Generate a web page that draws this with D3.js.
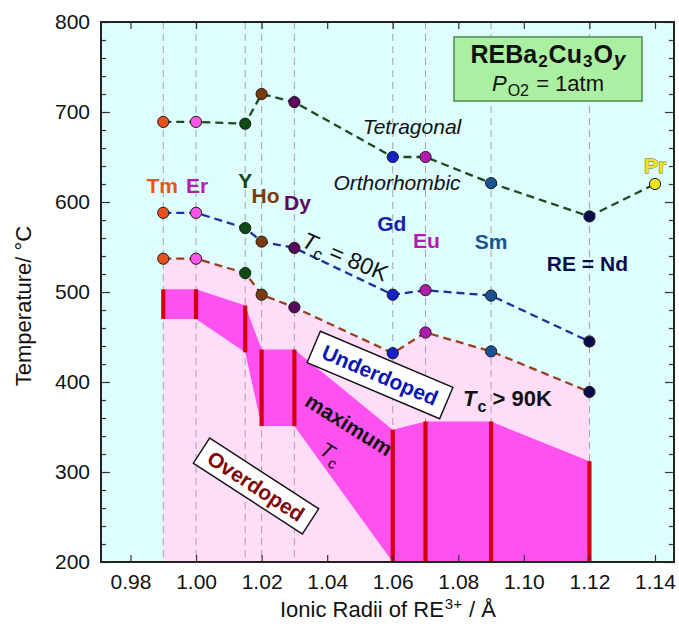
<!DOCTYPE html>
<html>
<head>
<meta charset="utf-8">
<script src="https://cdn.jsdelivr.net/npm/d3@7"></script>
<style>
  body { margin: 0; background: #fff; }
  svg { display: block; }
  text { font-family: "Liberation Sans", Arial, Helvetica, sans-serif; }
</style>
</head>
<body>
<svg id="chart" width="679" height="629"></svg>
<script>
// Rare-earth elements and their ionic radii (Å)
const elements = ["Tm", "Er", "Y", "Ho", "Dy", "Gd", "Eu", "Sm", "Nd"];
const radii = [0.99, 1.00, 1.015, 1.02, 1.03, 1.06, 1.07, 1.09, 1.12];

// Tetragonal / orthorhombic transition temperature (°C)
const tetraOrtho = [689, 689, 687, 720, 711, 650, 650, 621, 584];
const prRadius = 1.14;
const prTetraOrtho = 620;

// Tc = 80 K line (°C)
const tc80 = [588, 588, 571, 556, 549, 497, 502, 496, 445];
// Tc > 90 K upper boundary (°C)
const tc90 = [537, 537, 521, 497, 483, 432, 455, 434, 389];

// Maximum-Tc band: upper and lower limits (°C)
const maxTcTop = [503, 503, 485, 436, 436, 347, 356, 356, 312];
const maxTcBottom = [470, 470, 433, 351, 351, 200, 200, 200, 200];

// Axis ticks
const xTicks = [0.98, 1.00, 1.02, 1.04, 1.06, 1.08, 1.10, 1.12, 1.14];
const yTicks = [200, 300, 400, 500, 600, 700, 800];

// Marker colours per element
const markerColors = {
  Tm: "#e8501c", Er: "#ff55e6", Y: "#0f4a14", Ho: "#7a3c0e", Dy: "#5a0a5e",
  Gd: "#1420c8", Eu: "#b01cb0", Sm: "#1a5294", Nd: "#0c0c4c", Pr: "#f2e41c"
};
const labelColors = {
  Tm: "#e4561c", Er: "#b21cb4", Y: "#0f4a14", Ho: "#7a3c0e", Dy: "#5a0a5e",
  Gd: "#1a1ea8", Eu: "#b01cb0", Sm: "#1a5294", Nd: "#0c0c4c"
};
// Label placement relative to the Tc = 80 K marker (px)
const labelLayout = {
  Tm: [-1, -20], Er: [1, -20], Y: [0, -40], Ho: [4, -39], Dy: [3, -38],
  Gd: [-1, -64], Eu: [1, -42], Sm: [0, -47], Nd: [-2, -71]
};

const svg = d3.select("#chart");
const margin = { left: 101, right: 674, top: 22, bottom: 562 };

const x = d3.scaleLinear().domain([0.971, 1.1458]).range([margin.left, margin.right]);
const y = d3.scaleLinear().domain([200, 800]).range([margin.bottom, margin.top]);

const rows = elements.map((el, i) => ({
  el, r: radii[i], to: tetraOrtho[i], t80: tc80[i], t90: tc90[i],
  top: maxTcTop[i], bot: maxTcBottom[i]
}));

svg.append("defs").append("clipPath").attr("id", "plotClip")
  .append("rect")
  .attr("x", margin.left).attr("y", margin.top)
  .attr("width", margin.right - margin.left).attr("height", margin.bottom - margin.top);

// Plot background
svg.append("rect")
  .attr("x", margin.left).attr("y", margin.top)
  .attr("width", margin.right - margin.left).attr("height", margin.bottom - margin.top)
  .attr("fill", "#defdfd");

const plot = svg.append("g").attr("clip-path", "url(#plotClip)");

// Tc > 90 K region
plot.append("path")
  .datum(rows)
  .attr("fill", "#ffdcf8")
  .attr("d", d3.area().x(d => x(d.r)).y0(y(200)).y1(d => y(d.t90)));

// Guide lines at each element
plot.selectAll("line.guide")
  .data(rows)
  .join("line")
  .attr("class", "guide")
  .attr("x1", d => x(d.r)).attr("x2", d => x(d.r))
  .attr("y1", margin.top).attr("y2", margin.bottom)
  .attr("stroke", "#a4a4a4").attr("stroke-width", 1)
  .attr("stroke-dasharray", "7,5");

// Maximum-Tc band
plot.append("path")
  .datum(rows)
  .attr("fill", "#ff50f0")
  .attr("d", d3.area().x(d => x(d.r)).y0(d => y(d.bot)).y1(d => y(d.top)));

// Measured maximum-Tc ranges
plot.selectAll("line.range")
  .data(rows)
  .join("line")
  .attr("class", "range")
  .attr("x1", d => x(d.r)).attr("x2", d => x(d.r))
  .attr("y1", d => y(d.bot)).attr("y2", d => y(d.top))
  .attr("stroke", "#d4000e").attr("stroke-width", 4.2);

// Dashed phase lines
const lineGen = d3.line().x(d => x(d[0])).y(d => y(d[1]));
const tetraPts = rows.map(d => [d.r, d.to]).concat([[prRadius, prTetraOrtho]]);
plot.append("path").datum(tetraPts)
  .attr("fill", "none").attr("stroke", "#1d4a1d").attr("stroke-width", 2.3)
  .attr("stroke-dasharray", "8,5").attr("d", lineGen);
plot.append("path").datum(rows.map(d => [d.r, d.t80]))
  .attr("fill", "none").attr("stroke", "#1b2e9c").attr("stroke-width", 2.3)
  .attr("stroke-dasharray", "8,5").attr("d", lineGen);
plot.append("path").datum(rows.map(d => [d.r, d.t90]))
  .attr("fill", "none").attr("stroke", "#9c3e1c").attr("stroke-width", 2.3)
  .attr("stroke-dasharray", "8,5").attr("d", lineGen);

// Region label boxes
function boxedLabel(cx, cy, angle, w, h, text, color, size) {
  const g = svg.append("g").attr("transform", `translate(${cx},${cy}) rotate(${angle})`);
  g.append("rect").attr("x", -w / 2).attr("y", -h / 2).attr("width", w).attr("height", h)
    .attr("fill", "#ffffff").attr("stroke", "#111").attr("stroke-width", 1.4);
  g.append("text").attr("text-anchor", "middle").attr("y", size * 0.36)
    .attr("font-size", size).attr("font-weight", "bold").attr("fill", color)
    .text(text);
}
boxedLabel(380, 375, 23, 144, 34, "Underdoped", "#0a16b4", 21);
boxedLabel(256, 486, 33, 130, 30, "Overdoped", "#7e0a0a", 21);

// Markers
const markerGroups = [
  rows.map(d => ({ r: d.r, t: d.to, c: markerColors[d.el] })).concat([{ r: prRadius, t: prTetraOrtho, c: markerColors.Pr }]),
  rows.map(d => ({ r: d.r, t: d.t80, c: markerColors[d.el] })),
  rows.map(d => ({ r: d.r, t: d.t90, c: markerColors[d.el] }))
];
markerGroups.forEach(pts => {
  svg.append("g").selectAll("circle")
    .data(pts)
    .join("circle")
    .attr("cx", d => x(d.r)).attr("cy", d => y(d.t))
    .attr("r", 5.6)
    .attr("fill", d => d.c)
    .attr("stroke", "#1a1a1a").attr("stroke-width", 1);
});

// Element labels
svg.append("g").selectAll("text")
  .data(rows)
  .join("text")
  .attr("x", d => x(d.r) + labelLayout[d.el][0])
  .attr("y", d => y(d.t80) + labelLayout[d.el][1])
  .attr("text-anchor", "middle")
  .attr("font-size", 21).attr("font-weight", "bold")
  .attr("fill", d => labelColors[d.el])
  .text(d => d.el === "Nd" ? "RE = Nd" : d.el);

svg.append("text")
  .attr("x", x(prRadius)).attr("y", y(prTetraOrtho) - 11)
  .attr("text-anchor", "middle")
  .attr("font-size", 21).attr("font-weight", "bold")
  .attr("fill", "#f2e41c").attr("stroke", "#6a6a20").attr("stroke-width", 0.9)
  .attr("paint-order", "stroke")
  .text("Pr");

// Phase annotations
svg.append("text").attr("x", 412).attr("y", 134).attr("text-anchor", "middle")
  .attr("font-size", 21).attr("font-style", "italic").attr("fill", "#111").text("Tetragonal");
svg.append("text").attr("x", 397).attr("y", 190).attr("text-anchor", "middle")
  .attr("font-size", 21).attr("font-style", "italic").attr("fill", "#111").text("Orthorhombic");

const t80 = svg.append("text")
  .attr("transform", "translate(342,264) rotate(23)")
  .attr("text-anchor", "middle").attr("font-size", 23).attr("fill", "#111");
t80.append("tspan").attr("font-style", "italic").text("T");
t80.append("tspan").attr("font-size", 17).attr("dx", 1).attr("dy", 6).text("c");
t80.append("tspan").attr("dy", -6).text(" = 80K");

const t90 = svg.append("text")
  .attr("x", 463).attr("y", 406)
  .attr("font-size", 22).attr("font-weight", "bold").attr("fill", "#111");
t90.append("tspan").attr("font-style", "italic").text("T");
t90.append("tspan").attr("font-size", 16).attr("dx", 1).attr("dy", 6).text("c");
t90.append("tspan").attr("dy", -6).text(" > 90K");

svg.append("text")
  .attr("transform", "translate(345,431) rotate(32)")
  .attr("text-anchor", "middle").attr("font-size", 21).attr("font-weight", "bold")
  .attr("fill", "#111").text("maximum");
const tcMax = svg.append("text")
  .attr("transform", "translate(327,459) rotate(32)")
  .attr("text-anchor", "middle").attr("font-size", 21).attr("fill", "#111");
tcMax.append("tspan").attr("font-style", "italic").text("T");
tcMax.append("tspan").attr("font-size", 15).attr("dx", 1).attr("dy", 6).text("c");

// Compound box
svg.append("rect").attr("x", 454).attr("y", 37).attr("width", 188).attr("height", 64)
  .attr("fill", "#aaf0a2").attr("stroke", "#4e8a4e").attr("stroke-width", 1.5);
const f1 = svg.append("text").attr("x", 548).attr("y", 63).attr("text-anchor", "middle")
  .attr("font-size", 25).attr("font-weight", "bold").attr("fill", "#111");
f1.append("tspan").text("REBa");
f1.append("tspan").attr("font-size", 17).attr("dx", 1).attr("dy", 4).text("2");
f1.append("tspan").attr("dx", 1).attr("dy", -4).text("Cu");
f1.append("tspan").attr("font-size", 17).attr("dx", 1).attr("dy", 4).text("3");
f1.append("tspan").attr("dx", 1).attr("dy", -4).text("O");
f1.append("tspan").attr("font-size", 21).attr("font-style", "italic").attr("dx", 1).attr("dy", 3).text("y");
const f2 = svg.append("text").attr("x", 548).attr("y", 91).attr("text-anchor", "middle")
  .attr("font-size", 22).attr("fill", "#111");
f2.append("tspan").attr("font-style", "italic").text("P");
f2.append("tspan").attr("font-size", 16).attr("dx", 1).attr("dy", 5).text("O2");
f2.append("tspan").attr("dx", 1).attr("dy", -5).text(" = 1atm");

// Axes with inward ticks
const tickColor = "#333";
function styleAxis(g) {
  g.select(".domain").remove();
  g.selectAll(".tick line").attr("stroke", tickColor).attr("stroke-width", 1.2);
  g.selectAll(".tick text").attr("fill", "#111").attr("font-size", 21)
    .attr("font-family", "\"Liberation Sans\", Arial, sans-serif");
}
svg.append("g").attr("transform", `translate(0,${margin.bottom})`)
  .call(d3.axisBottom(x).tickValues(xTicks).tickFormat(d3.format(".2f")).tickSizeInner(-7).tickPadding(12))
  .call(styleAxis);
svg.append("g").attr("transform", `translate(0,${margin.top})`)
  .call(d3.axisTop(x).tickValues(xTicks).tickFormat("").tickSizeInner(-7))
  .call(styleAxis);
svg.append("g").attr("transform", `translate(${margin.left},0)`)
  .call(d3.axisLeft(y).tickValues(yTicks).tickFormat(d3.format("d")).tickSizeInner(-9).tickPadding(11))
  .call(styleAxis);
svg.append("g").attr("transform", `translate(${margin.left},0)`)
  .call(d3.axisLeft(y).tickValues(d3.range(220, 800, 20).filter(v => v % 100 !== 0)).tickFormat("").tickSizeInner(-5))
  .call(styleAxis);
svg.append("g").attr("transform", `translate(${margin.right},0)`)
  .call(d3.axisRight(y).tickValues(yTicks).tickFormat("").tickSizeInner(-9))
  .call(styleAxis);
svg.append("g").attr("transform", `translate(${margin.right},0)`)
  .call(d3.axisRight(y).tickValues(d3.range(220, 800, 20).filter(v => v % 100 !== 0)).tickFormat("").tickSizeInner(-5))
  .call(styleAxis);

// Plot frame
svg.append("rect")
  .attr("x", margin.left).attr("y", margin.top)
  .attr("width", margin.right - margin.left).attr("height", margin.bottom - margin.top)
  .attr("fill", "none").attr("stroke", "#222").attr("stroke-width", 2);

// Axis titles
const xt = svg.append("text").attr("x", 388).attr("y", 617).attr("text-anchor", "middle")
  .attr("font-size", 22).attr("fill", "#111");
xt.append("tspan").text("Ionic Radii of RE");
xt.append("tspan").attr("font-size", 15).attr("dx", 1).attr("dy", -8).text("3+");
xt.append("tspan").attr("dx", 1).attr("dy", 8).text(" /  Å");

svg.append("text")
  .attr("transform", "translate(31,306) rotate(-90)")
  .attr("text-anchor", "middle").attr("font-size", 22).attr("fill", "#111")
  .text("Temperature/ °C");
</script>
</body>
</html>
